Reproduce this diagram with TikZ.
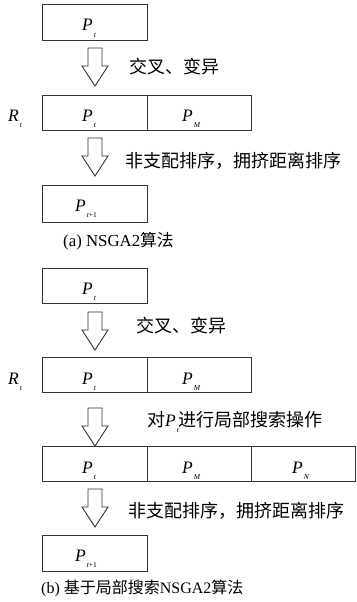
\documentclass[tikz,border=0pt]{standalone}
\usepackage{fontspec}
\setmainfont{Liberation Serif}
\newfontfamily\cjk{Noto Sans CJK SC}
\newcommand\Var[2]{{\itshape #1}\kern1pt\raisebox{-6pt}{\fontsize{7.5}{7.5}\selectfont #2}}
\newcommand\blkarrow[2]{%
  \draw[blockarrow] (88,#1) -- (102,#1) -- (102,#1+18) -- (108,#1+18) -- (95,#1+38)
    -- (82,#1+18) -- (88,#1+18) -- cycle;
  \coordinate (#2) at (95,#1);}
\begin{document}
\begin{tikzpicture}[x=1pt,y=-1pt,
  cell/.style={draw=black!80,line width=0.9pt},
  blockarrow/.style={draw=black!80,line width=0.9pt,fill=white},
  lbl/.style={inner sep=0pt,anchor=base west,font=\fontsize{17.5}{17.5}\selectfont},
  note/.style={inner sep=0pt,anchor=west,font=\fontsize{18}{18}\selectfont\cjk},
  captxt/.style={inner sep=0pt,anchor=west,font=\fontsize{16.8}{16.8}\selectfont}]
\useasboundingbox (0,0) rectangle (356,602);
% ---------- (a) ----------
\draw[cell] (42,4) rectangle (147,40);
\node[lbl] (a1) at (82,31) {\Var{P}{\itshape t}};
\blkarrow{48}{ar1}
\node[note] (t1) at (129,67) {交叉、变异};
\draw[cell] (42,95) rectangle (251,130);
\draw[cell] (147,95) -- (147,130);
\node[lbl] (ra) at (8,121.5) {\Var{R}{\itshape t}};
\node[lbl] (a2) at (82,121.5) {\Var{P}{\itshape t}};
\node[lbl] (a3) at (182,121.5) {\Var{P}{\itshape M}};
\blkarrow{138}{ar2}
\node[note] (t2) at (125,161) {非支配排序，拥挤距离排序};
\draw[cell] (42,185) rectangle (147,222);
\node[lbl] (a4) at (75,211) {\Var{P}{{\itshape t}+1}};
\node[captxt] (ca) at (63,241) {(a) NSGA2{\cjk 算法}};
% ---------- (b) ----------
\draw[cell] (42,268) rectangle (147,303);
\node[lbl] (b1) at (82,294.5) {\Var{P}{\itshape t}};
\blkarrow{312}{ar3}
\node[note] (t3) at (136,326) {交叉、变异};
\draw[cell] (42,357) rectangle (251,392);
\draw[cell] (147,357) -- (147,392);
\node[lbl] (rb) at (8,384) {\Var{R}{\itshape t}};
\node[lbl] (b2) at (82,384) {\Var{P}{\itshape t}};
\node[lbl] (b3) at (182,384) {\Var{P}{\itshape M}};
\blkarrow{408}{ar4}
\node[note] (t4) at (147,422) {对{\rmfamily\fontsize{17.5}{17.5}\selectfont\Var{P}{\itshape t}}进行局部搜索操作};
\draw[cell] (42,446) rectangle (355,481);
\draw[cell] (147,446) -- (147,481);
\draw[cell] (251,446) -- (251,481);
\node[lbl] (b4) at (82,473) {\Var{P}{\itshape t}};
\node[lbl] (b5) at (182,473) {\Var{P}{\itshape M}};
\node[lbl] (b6) at (292,473) {\Var{P}{\itshape N}};
\blkarrow{489}{ar5}
\node[note] (t5) at (128,511) {非支配排序，拥挤距离排序};
\draw[cell] (42,535) rectangle (147,571);
\node[lbl] (b7) at (75,561) {\Var{P}{{\itshape t}+1}};
\node[captxt,font=\fontsize{16}{16}\selectfont] (cb) at (41,588) {(b) {\cjk 基于局部搜索}NSGA2{\cjk 算法}};
\end{tikzpicture}
\end{document}
